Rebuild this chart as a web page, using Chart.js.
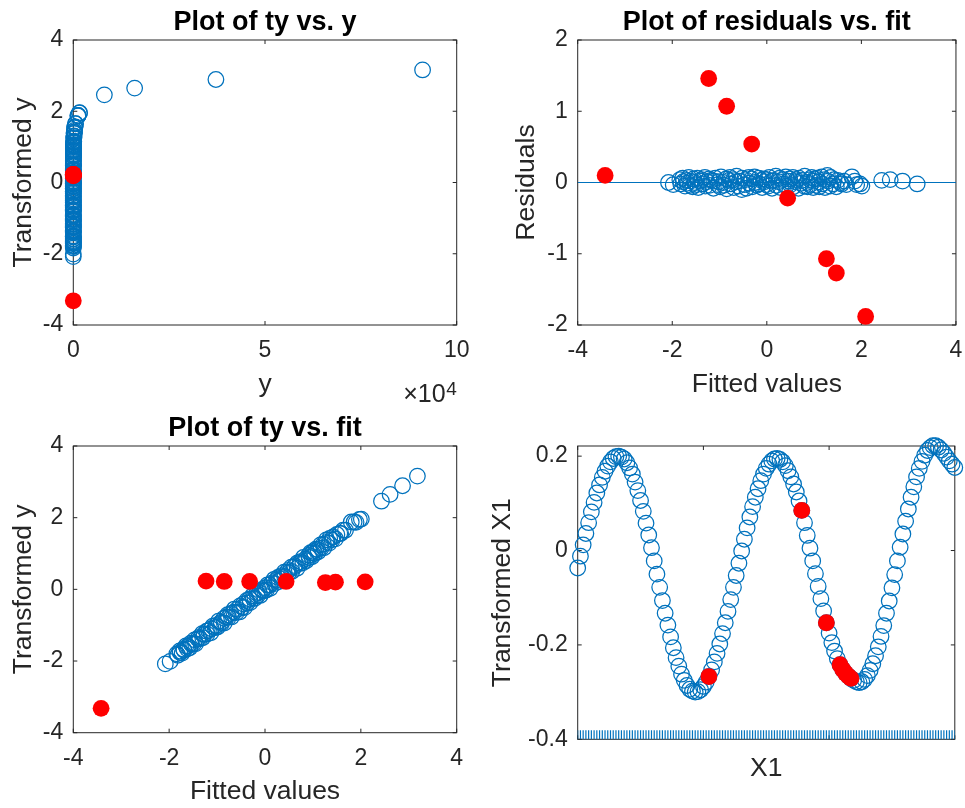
<!DOCTYPE html>
<html>
<head>
<meta charset="utf-8">
<title>Transformation diagnostics</title>
<script src="https://cdn.jsdelivr.net/npm/chart.js@4.4.1/dist/chart.umd.min.js"></script>
<style>
  body { margin: 0; background: #ffffff; }
  #figure { position: relative; width: 965px; height: 808px; overflow: hidden; }
  #figure canvas { position: absolute; }
</style>
</head>
<body>
<div id="figure">
  <canvas id="tyVsY" width="482" height="404" style="left:0;top:0"></canvas>
  <canvas id="residVsFit" width="483" height="404" style="left:482px;top:0"></canvas>
  <canvas id="tyVsFit" width="482" height="404" style="left:0;top:404px"></canvas>
  <canvas id="x1Plot" width="483" height="404" style="left:482px;top:404px"></canvas>
</div>
<script>
// --- observations kept in the fit (blue circles) ---
const fitted = [
    -2.08, -1.98,
    -1.84, -1.82, -1.78, -1.77, -1.73, -1.70, -1.69, -1.65, -1.62, -1.61,
    -1.57, -1.55, -1.53, -1.49, -1.47, -1.45, -1.40, -1.38, -1.36, -1.31,
    -1.30, -1.27, -1.22, -1.21, -1.18, -1.13, -1.12, -1.09, -1.04, -1.02,
    -0.99, -0.97, -0.92, -0.91, -0.86, -0.85, -0.80, -0.78, -0.76, -0.71,
    -0.70, -0.65, -0.64, -0.60, -0.58, -0.53, -0.52, -0.47, -0.45, -0.43,
    -0.38, -0.37, -0.32, -0.31, -0.26, -0.25, -0.21, -0.17, -0.16, -0.12,
    -0.10, -0.06, -0.05, -0.01, 0.00,
    0.03, 0.05, 0.10, 0.11, 0.15, 0.19, 0.20, 0.25, 0.27, 0.29,
    0.34, 0.35, 0.40, 0.41, 0.46, 0.48, 0.50, 0.55, 0.56, 0.61,
    0.62, 0.67, 0.68, 0.73, 0.74, 0.79, 0.80, 0.85, 0.86, 0.91,
    0.92, 0.95, 0.98, 0.99, 1.01,
    1.04, 1.06, 1.10, 1.11, 1.16, 1.17, 1.22, 1.23, 1.28, 1.29,
    1.34, 1.35, 1.40, 1.42, 1.47, 1.50, 1.56, 1.58,
    1.63, 1.68, 1.80, 1.86, 1.90, 1.97, 2.01,
    2.43, 2.61, 2.87, 3.18
];
const residuals = [
    0.00, -0.03,
    0.04, -0.02, 0.06, 0.01, -0.05, 0.03, -0.01, 0.07, -0.04, 0.02,
    -0.06, 0.05, 0.00, -0.03, 0.06, -0.07, 0.02, 0.04, -0.02, 0.07,
    -0.05, 0.01, 0.05, -0.04, 0.03, -0.08, 0.02, 0.06, -0.03, 0.01,
    -0.06, 0.08, 0.00, -0.04, 0.05, -0.09, 0.03, 0.07, -0.02, 0.04,
    -0.07, 0.01, 0.09, -0.05, 0.02, -0.10, 0.06, -0.03, 0.04, -0.08,
    0.07, -0.01, 0.05, -0.06, 0.08, 0.00, -0.04, 0.06, -0.02, 0.03,
    -0.07, 0.05, 0.01, -0.03, 0.04,
    -0.05, 0.07, 0.02, -0.08, 0.03, 0.09, -0.04, 0.01, 0.06, -0.07,
    0.04, -0.02, 0.08, -0.05, 0.02, 0.05, -0.03, 0.07, -0.06, 0.01,
    0.04, -0.08, 0.06, -0.01, 0.03, -0.05, 0.09, 0.00, -0.06, 0.04,
    -0.03, 0.07, -0.07, 0.02, 0.05,
    -0.04, 0.06, 0.01, -0.06, 0.08, -0.02, 0.04, -0.07, 0.10, 0.02,
    -0.05, 0.07, -0.02, 0.04, -0.06, 0.03, 0.00, -0.02,
    0.02, -0.03, 0.08, 0.02, -0.03, -0.02, -0.05,
    0.03, 0.04, 0.02, -0.02
];
const rawY = [
    0.002, 0.002,
    0.0044, 0.0040, 0.0056, 0.0052, 0.0045, 0.0066, 0.0064, 0.0089, 0.0068, 0.0092,
    0.0075, 0.012, 0.011, 0.011, 0.017, 0.012, 0.018, 0.021, 0.019, 0.028,
    0.021, 0.028, 0.036, 0.029, 0.042, 0.031, 0.049, 0.063, 0.051, 0.065,
    0.057, 0.10, 0.085, 0.08, 0.12, 0.085, 0.14, 0.18, 0.15, 0.20,
    0.15, 0.22, 0.32, 0.22, 0.31, 0.23, 0.44, 0.36, 0.50, 0.37,
    0.68, 0.57, 0.78, 0.59, 1.06, 0.90, 0.87, 1.35, 1.14, 1.50,
    1.18, 1.97, 1.84, 1.71, 2.3,
    1.9, 3.2, 2.9, 2.3, 3.8, 5.1, 3.6, 4.8, 6.3, 4.5,
    7.2, 6.5, 10, 7.2, 10, 12.5, 10.5, 16.5, 11.6, 16.5,
    20, 14.8, 26, 23, 29, 24.5, 44, 36, 32, 51,
    44, 66, 44, 64, 73,
    60, 93, 87, 76, 136, 106, 145, 109, 219, 184,
    160, 270, 219, 296, 242, 377, 405, 432,
    567, 567, 1250, 1250, 1210, 1590, 1640,
    8100, 16000, 37200, 91100
];

// --- flagged observations (red dots) ---
const outFitted = [-3.42, -1.23, -0.85, -0.32, 0.44, 1.26, 1.47, 2.09];
const outResiduals = [0.10, 1.46, 1.07, 0.54, -0.22, -1.07, -1.27, -1.88];
const outRawY = [0.0001, 4.5, 4.4, 4.4, 4.4, 4.1, 4.2, 4.3];

// --- transformed X1, one value per observation in X1 order ---
const transformedX1 = [
    -0.037, -0.012, 0.012, 0.036, 0.059, 0.082, 0.102, 0.122, 0.139, 0.155,
    0.168, 0.179, 0.188, 0.195, 0.199, 0.200, 0.198, 0.194, 0.186, 0.175,
    0.162, 0.145, 0.127, 0.106, 0.083, 0.058, 0.033, 0.006, -0.022, -0.050,
    -0.078, -0.106, -0.133, -0.158, -0.183, -0.206, -0.227, -0.245, -0.262, -0.275,
    -0.286, -0.294, -0.298, -0.300, -0.299, -0.295, -0.288, -0.279, -0.267, -0.253,
    -0.236, -0.218, -0.198, -0.176, -0.153, -0.129, -0.104, -0.078, -0.053, -0.027,
    -0.001, 0.024, 0.048, 0.071, 0.093, 0.113, 0.131, 0.148, 0.162, 0.174,
    0.183, 0.190, 0.194, 0.195, 0.193, 0.188, 0.180, 0.169, 0.156, 0.141,
    0.124, 0.105, 0.085, 0.059, 0.032, 0.005, -0.022, -0.049, -0.076, -0.102,
    -0.128, -0.153, -0.175, -0.195, -0.213, -0.229, -0.242, -0.252, -0.260, -0.266,
    -0.271, -0.275, -0.278, -0.280, -0.278, -0.273, -0.265, -0.254, -0.240, -0.223,
    -0.204, -0.182, -0.159, -0.133, -0.107, -0.079, -0.051, -0.022, 0.007, 0.035,
    0.062, 0.088, 0.113, 0.135, 0.156, 0.174, 0.189, 0.202, 0.212, 0.218,
    0.222, 0.222, 0.219, 0.213, 0.206, 0.198, 0.190, 0.183, 0.176
];
const outX1Index = [48, 82, 91, 96, 97, 98, 99, 100];

// --- tick positions ---
const xTicksRawY = [0, 50000, 100000];
const yTicksTy = [-4, -2, 0, 2, 4];
const xTicksFit = [-4, -2, 0, 2, 4];
const yTicksResid = [-2, -1, 0, 1, 2];
const xTicksX1 = [0, 46, 92, 138];
const yTicksX1 = [-0.4, -0.2, 0, 0.2];

const BLUE = "#0072BD";
const RED = "#FF0000";
const INK = "#262626";
const FONT = '"Liberation Sans", Arial, Helvetica, sans-serif';
const TICK_LEN = 4;

Chart.defaults.font.family = FONT;
Chart.defaults.color = INK;

// transformed response = fitted value + residual
const ty = fitted.map((f, i) => +(f + residuals[i]).toFixed(3));
const outTy = outFitted.map((f, i) => +(f + outResiduals[i]).toFixed(3));

function points(xs, ys) {
    return xs.map((x, i) => ({ x: x, y: ys[i] }));
}

function openCircles(data) {
    return {
        data: data,
        pointStyle: "circle",
        pointRadius: 7.8,
        borderWidth: 1.25,
        borderColor: BLUE,
        backgroundColor: "rgba(0,0,0,0)",
        clip: false,
        order: 2
    };
}

function redDots(data) {
    return {
        data: data,
        pointStyle: "circle",
        pointRadius: 8.4,
        borderWidth: 0,
        borderColor: RED,
        backgroundColor: RED,
        clip: false,
        order: 1
    };
}

function axis(o) {
    return {
        type: "linear",
        bounds: "data",
        min: o.min,
        max: o.max,
        afterBuildTicks: function (s) {
            s.ticks = o.ticks.map(v => ({ value: v }));
        },
        afterFit: function (s) {
            if (o.width) s.width = o.width;
            if (o.height) s.height = o.height;
            s.paddingLeft = 0; s.paddingRight = 0; s.paddingTop = 0; s.paddingBottom = 0;
        },
        grid: { display: false, drawTicks: false },
        border: { display: false },
        ticks: {
            font: { size: 23 },
            color: INK,
            padding: o.pad,
            autoSkip: false,
            maxRotation: 0,
            callback: o.fmt || (v => String(v))
        },
        title: {
            display: !!o.title,
            text: o.title || "",
            color: INK,
            font: { size: 26.5, lineHeight: 1 },
            padding: 0
        }
    };
}

// MATLAB-like box, inward ticks on all four sides, bold title, axis exponent
const matlabAxes = {
    id: "matlabAxes",
    beforeDatasetsDraw(chart) {
        const { ctx, chartArea: a, scales } = chart;
        ctx.save();
        ctx.strokeStyle = INK;
        ctx.lineWidth = 1;
        ctx.strokeRect(a.left, a.top, a.right - a.left, a.bottom - a.top);
        ctx.beginPath();
        scales.x.ticks.forEach(t => {
            const px = scales.x.getPixelForValue(t.value);
            ctx.moveTo(px, a.bottom); ctx.lineTo(px, a.bottom - TICK_LEN);
            ctx.moveTo(px, a.top); ctx.lineTo(px, a.top + TICK_LEN);
        });
        scales.y.ticks.forEach(t => {
            const py = scales.y.getPixelForValue(t.value);
            ctx.moveTo(a.left, py); ctx.lineTo(a.left + TICK_LEN, py);
            ctx.moveTo(a.right, py); ctx.lineTo(a.right - TICK_LEN, py);
        });
        ctx.stroke();
        ctx.restore();
    },
    afterDraw(chart, args, opts) {
        const { ctx, chartArea: a } = chart;
        ctx.save();
        if (opts.title) {
            ctx.font = "bold 27px " + FONT;
            ctx.fillStyle = "#000000";
            ctx.textAlign = "center";
            ctx.textBaseline = "alphabetic";
            ctx.fillText(opts.title, (a.left + a.right) / 2, a.top - 10.5);
        }
        if (opts.exponent) {
            ctx.fillStyle = INK;
            ctx.textAlign = "right";
            ctx.textBaseline = "alphabetic";
            ctx.font = "19px " + FONT;
            const w = ctx.measureText(opts.exponent).width;
            ctx.fillText(opts.exponent, a.right, a.bottom + 70);
            ctx.font = "25px " + FONT;
            ctx.fillText("\u00D710", a.right - w - 0.5, a.bottom + 77);
        }
        ctx.restore();
    }
};

function frame(b) {
    return {
        padding: {
            left: b.left - b.yAxisW,
            top: b.top,
            right: b.canvasW - b.right,
            bottom: b.canvasH - b.bottom - b.xAxisH
        }
    };
}

function makeChart(id, box, datasets, xAxis, yAxis, extra) {
    xAxis.height = box.xAxisH;
    yAxis.width = box.yAxisW;
    return new Chart(document.getElementById(id), {
        type: "scatter",
        data: { datasets: datasets },
        options: {
            responsive: false,
            animation: false,
            events: [],
            layout: frame(box),
            plugins: {
                legend: { display: false },
                tooltip: { enabled: false },
                matlabAxes: extra
            },
            scales: { x: axis(xAxis), y: axis(yAxis) }
        },
        plugins: [matlabAxes]
    });
}

// Plot of ty vs. y
makeChart("tyVsY",
    { left: 73.3, top: 40, right: 456.7, bottom: 325, canvasW: 482, canvasH: 404, yAxisW: 63.3, xAxisH: 73 },
    [redDots(points(outRawY, outTy)), openCircles(points(rawY, ty))],
    { min: 0, max: 100000, ticks: xTicksRawY, pad: 12, title: "y", fmt: v => String(v / 10000) },
    { min: -4, max: 4, ticks: yTicksTy, pad: 10, title: "Transformed y" },
    { title: "Plot of ty vs. y", exponent: "4" });

// Plot of residuals vs. fit
makeChart("residVsFit",
    { left: 95.7, top: 40, right: 481, bottom: 325, canvasW: 483, canvasH: 404, yAxisW: 64.7, xAxisH: 73 },
    [
        redDots(points(outFitted, outResiduals)),
        openCircles(points(fitted, residuals)),
        {
            type: "line",
            data: points([xTicksFit[0], xTicksFit[xTicksFit.length - 1]], [0, 0]),
            borderColor: BLUE,
            borderWidth: 1.2,
            pointRadius: 0,
            order: 3
        }
    ],
    { min: -4, max: 4, ticks: xTicksFit, pad: 12, title: "Fitted values" },
    { min: -2, max: 2, ticks: yTicksResid, pad: 10, title: "Residuals" },
    { title: "Plot of residuals vs. fit" });

// Plot of ty vs. fit
makeChart("tyVsFit",
    { left: 73.3, top: 42, right: 456.7, bottom: 328.7, canvasW: 482, canvasH: 404, yAxisW: 63.3, xAxisH: 71.8 },
    [redDots(points(outFitted, outTy)), openCircles(points(fitted, ty))],
    { min: -4, max: 4, ticks: xTicksFit, pad: 12, title: "Fitted values" },
    { min: -4, max: 4, ticks: yTicksTy, pad: 10, title: "Transformed y" },
    { title: "Plot of ty vs. fit" });

// Transformed X1 against X1, with a rug of the X1 values along the bottom
makeChart("x1Plot",
    { left: 95.7, top: 42, right: 481, bottom: 335.3, canvasW: 483, canvasH: 404, yAxisW: 88.2, xAxisH: 42.7 },
    [
        redDots(outX1Index.map(i => ({ x: i, y: transformedX1[i] }))),
        openCircles(transformedX1.map((v, i) => ({ x: i, y: v }))),
        {
            data: transformedX1.map((v, i) => ({ x: i, y: yTicksX1[0] })),
            pointStyle: "line",
            rotation: 90,
            pointRadius: 9,
            borderWidth: 1.2,
            borderColor: BLUE,
            clip: 0,
            order: 3
        }
    ],
    { min: 0, max: 138, ticks: xTicksX1, pad: 0, title: "X1", fmt: () => "" },
    { min: -0.4, max: 0.2215, ticks: yTicksX1, pad: 10, title: "Transformed X1" },
    {});
</script>
</body>
</html>
